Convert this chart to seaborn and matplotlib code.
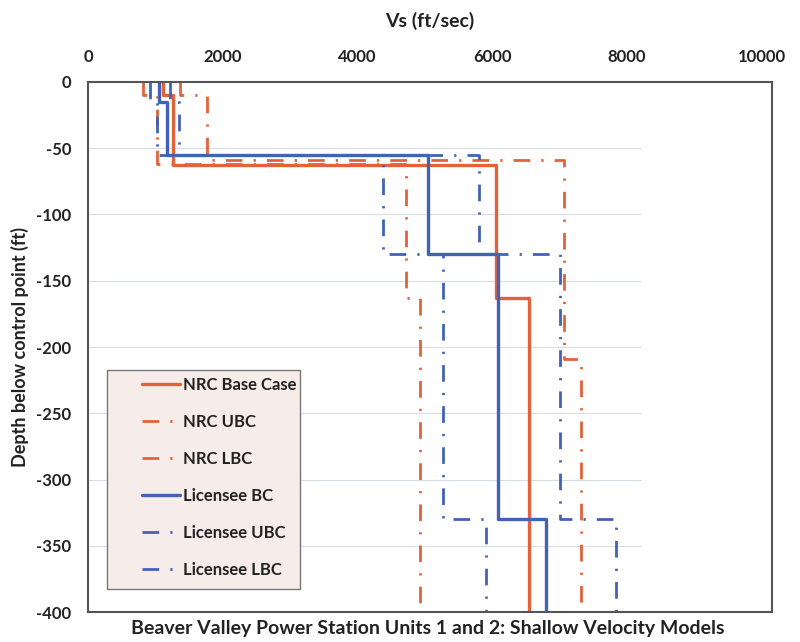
import matplotlib
matplotlib.use("Agg")
import matplotlib.pyplot as plt
from matplotlib.patches import Rectangle
import seaborn as sns
import pandas as pd

# Shallow velocity models: layer boundaries (ft, negative downward) and Vs per layer (ft/sec)
nrc_bc_depth = [0, -10, -63, -163, -400]
nrc_bc_vs = [1120, 1260, 6060, 6550]

nrc_ubc_depth = [0, -10, -59, -209, -400]
nrc_ubc_vs = [1360, 1760, 7060, 7320]

nrc_lbc_depth = [0, -10, -62, -163, -400]
nrc_lbc_vs = [820, 1020, 4720, 4930]

lic_depth = [0, -15, -55, -130, -330, -400]
lic_bc_vs = [1050, 1170, 5040, 6080, 6800]
lic_ubc_vs = [1210, 1345, 5800, 7000, 7840]
lic_lbc_vs = [913, 1017, 4380, 5270, 5910]

x_ticks = [0, 2000, 4000, 6000, 8000, 10000]
y_ticks = [0, -50, -100, -150, -200, -250, -300, -350, -400]

ORANGE = "#E3623A"
BLUE = "#4262B8"
DASHDOT = (0, (6, 4, 0.8, 4))


def perfil(depths, vs):
    """Transforma camadas em pontos de um perfil em degraus."""
    xs, ys = [], []
    for i, v in enumerate(vs):
        xs += [v, v]
        ys += [depths[i], depths[i + 1]]
    return pd.DataFrame({"vs": xs, "depth": ys})


series = [
    ("NRC Base Case", nrc_bc_depth, nrc_bc_vs, ORANGE, "-", 2.4),
    ("NRC UBC", nrc_ubc_depth, nrc_ubc_vs, ORANGE, DASHDOT, 2.0),
    ("NRC LBC", nrc_lbc_depth, nrc_lbc_vs, ORANGE, DASHDOT, 2.0),
    ("Licensee BC", lic_depth, lic_bc_vs, BLUE, "-", 2.4),
    ("Licensee UBC", lic_depth, lic_ubc_vs, BLUE, DASHDOT, 2.0),
    ("Licensee LBC", lic_depth, lic_lbc_vs, BLUE, DASHDOT, 2.0),
]

sns.set_theme(style="white")
plt.rcParams["font.family"] = ["Lato", "DejaVu Sans"]

fig = plt.figure(figsize=(8, 6.42), dpi=100)
ax = fig.add_axes([0.11, 0.0467, 0.855, 0.8256])

# Linhas de grade horizontais claras
ax.hlines(y_ticks[1:-1], 0, 8200, color="#D6DCE8", lw=0.8, zorder=0)

for nome, dep, vs, cor, estilo, lw in series:
    df = perfil(dep, vs)
    sns.lineplot(data=df, x="vs", y="depth", sort=False, estimator=None,
                 color=cor, linestyle=estilo, lw=lw, ax=ax, label=nome)

ax.set_xlim(0, 10150)
ax.set_ylim(-400, 0)
ax.xaxis.tick_top()
ax.xaxis.set_label_position("top")
ax.set_xticks(x_ticks)
ax.set_yticks(y_ticks)
ax.set_xticklabels([str(t) for t in x_ticks], fontsize=12, fontweight="bold")
ax.set_yticklabels([str(t) for t in y_ticks], fontsize=12, fontweight="bold")
ax.tick_params(axis="x", length=0, pad=12, colors="#222222")
ax.tick_params(axis="y", length=0, pad=12, colors="#222222")
ax.set_xlabel("Vs (ft/sec)", fontsize=14, fontweight="bold", labelpad=16, color="#222222")
ax.set_ylabel("Depth below control point (ft)", fontsize=13, fontweight="bold",
              labelpad=5, color="#222222")

for s in ax.spines.values():
    s.set_color("#555555")
    s.set_linewidth(1.5)

# Caixa da legenda desenhada à parte (padding horizontal maior que o vertical)
ax.add_patch(Rectangle((0.028, 0.043), 0.282, 0.414, transform=ax.transAxes,
                       facecolor="#F6ECEA", edgecolor="#777777", lw=1.0, zorder=1))

leg = ax.legend(loc="upper left", bbox_to_anchor=(0.079, 0.444), borderaxespad=0,
                frameon=False, fontsize=12, labelspacing=1.26,
                handlelength=2.3, handletextpad=0.15, borderpad=0)
for t in leg.get_texts():
    t.set_fontweight("bold")
    t.set_color("#222222")

fig.text(0.535, 0.021, "Beaver Valley Power Station Units 1 and 2: Shallow Velocity Models",
         ha="center", va="center", fontsize=14, fontweight="bold", color="#222222")

fig.savefig("out.png", dpi=100)
plt.close(fig)
